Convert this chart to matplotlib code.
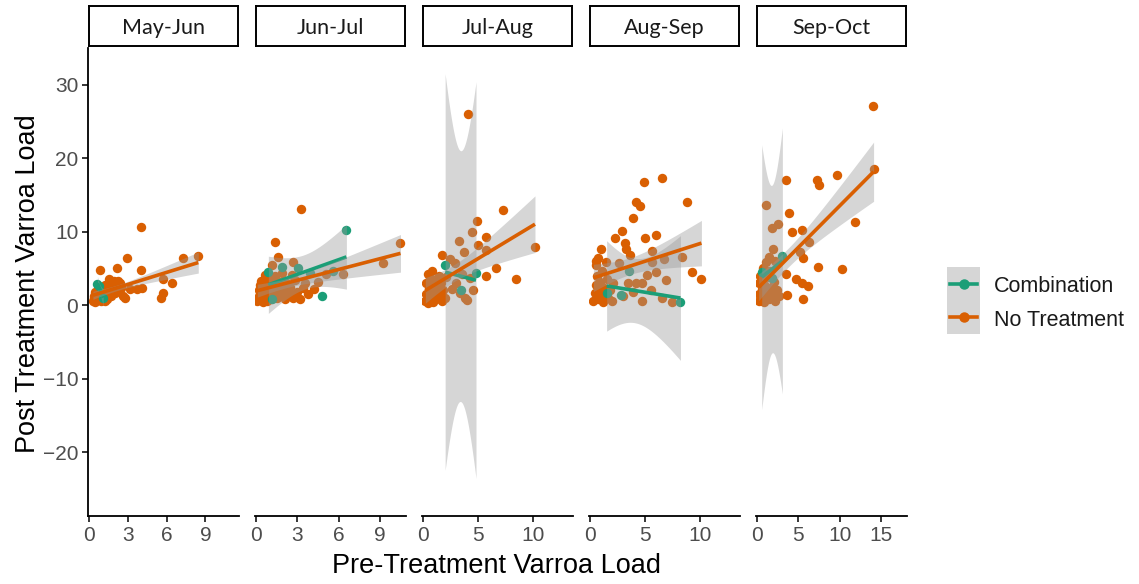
import numpy as np
import matplotlib
matplotlib.use("Agg")
import matplotlib.pyplot as plt
from matplotlib.patches import Rectangle
from matplotlib.lines import Line2D

# ---- data: pre- vs post-treatment varroa load, by period and treatment ----
periods = ["May-Jun", "Jun-Jul", "Jul-Aug", "Aug-Sep", "Sep-Oct"]
treatments = ["Combination", "No Treatment"]

# May-Jun
mayjun_none_pre = [4.0, 0.85, 2.15, 2.95, 4.05, 7.3, 8.45, 5.75, 6.45, 1.55, 2.25, 2.8, 3.2, 3.7,
                   4.1, 5.7, 5.55, 0.3, 0.4, 0.5, 0.6, 0.7, 0.8, 0.9, 1.0, 1.1, 1.2, 1.3, 1.4, 1.5,
                   1.6, 1.7, 1.8, 1.9, 2.0, 2.1, 2.3, 2.4, 2.5, 2.6, 1.2, 0.5,
                   0.35, 0.45, 0.55, 0.65, 0.75, 0.85, 0.95, 1.05, 1.15, 1.25, 1.35, 1.45, 1.55,
                   1.65, 1.75, 1.85, 1.95, 2.05, 2.2, 2.35]
mayjun_none_post = [10.6, 4.75, 5.1, 6.35, 4.85, 6.4, 6.7, 3.5, 3.0, 3.5, 3.3, 0.95, 2.2, 2.2,
                    2.4, 1.7, 0.95, 0.6, 1.2, 1.8, 0.9, 2.2, 1.4, 0.5, 1.0, 2.0, 2.8, 1.5, 0.8, 2.4,
                    3.0, 1.2, 2.0, 3.3, 1.6, 2.6, 1.9, 3.0, 2.3, 1.3, 0.6, 0.4,
                    1.0, 0.7, 1.3, 1.6, 0.9, 1.9, 1.3, 1.6, 1.1, 2.1, 1.8, 1.3, 2.2,
                    1.9, 2.6, 1.7, 2.3, 2.0, 2.5, 2.2]
mayjun_combo_pre = [0.65, 0.75, 1.1]
mayjun_combo_post = [2.9, 2.6, 1.0]

# Jun-Jul
junjul_none_pre = [3.3, 1.38, 10.5, 9.2, 1.6, 1.14, 2.7, 5.1, 6.3, 4.5, 3.55, 2.6, 0.65,
                   0.1, 0.2, 0.2, 0.3, 0.3, 0.4, 0.4, 0.5, 0.5, 0.6, 0.7, 0.7, 0.8, 0.9, 1.0, 1.0,
                   1.1, 1.2, 1.3, 1.4, 1.5, 1.6, 1.7, 1.8, 1.9, 2.0, 2.1, 2.2, 2.4, 2.5, 2.7, 2.8,
                   3.0, 3.2, 3.4, 3.8, 4.2]
junjul_none_post = [13.1, 8.6, 8.5, 5.7, 6.6, 5.4, 5.9, 4.3, 4.2, 3.2, 2.95, 4.1, 4.1,
                    0.5, 1.2, 2.0, 0.8, 2.8, 1.5, 3.3, 0.4, 2.3, 1.0, 1.8, 3.0, 0.6, 2.2, 1.3, 3.6,
                    0.8, 2.6, 1.6, 3.9, 1.0, 2.2, 3.2, 1.4, 4.4, 2.0, 0.9, 3.0, 1.6, 2.5, 1.0, 3.4,
                    1.8, 0.8, 2.4, 1.5, 2.2]
junjul_combo_pre = [0.9, 1.2, 1.86, 3.07, 3.9, 4.8, 5.6, 6.57]
junjul_combo_post = [4.5, 0.8, 5.2, 5.1, 4.4, 1.2, 4.6, 10.2]

# Jul-Aug
julaug_none_pre = [4.1, 7.27, 4.85, 5.75, 4.4, 3.25, 10.15, 5.0, 3.7, 5.75, 1.73, 6.6, 5.7, 8.4,
                   2.4, 2.9, 3.36, 4.3, 3.0, 3.8, 4.5, 2.6, 3.5, 4.0,
                   0.2, 0.3, 0.3, 0.4, 0.5, 0.5, 0.6, 0.7, 0.8, 0.9, 0.9, 1.0, 1.1, 1.2, 1.3,
                   1.4, 1.5, 1.6, 1.7, 1.8, 2.0, 2.1, 0.4, 1.2]
julaug_none_post = [26.0, 12.9, 11.5, 9.3, 10.0, 8.75, 7.9, 8.2, 7.3, 7.5, 6.8, 5.1, 4.0, 3.5,
                    6.3, 5.7, 1.7, 3.7, 3.0, 1.0, 2.0, 2.2, 4.2, 0.7,
                    0.5, 1.5, 3.0, 4.2, 0.8, 2.2, 3.6, 1.2, 4.6, 0.4, 2.6, 1.8, 3.4, 0.9, 2.3,
                    4.0, 1.4, 3.0, 0.6, 2.0, 1.0, 3.8, 0.3, 1.6]
julaug_combo_pre = [2.0, 3.4, 4.8]
julaug_combo_post = [5.45, 2.05, 4.35]

# Aug-Sep
augsep_none_pre = [6.5, 4.9, 4.15, 4.5, 8.8, 3.85, 2.9, 5.0, 6.0, 2.3, 3.2, 3.3, 3.6, 1.0, 0.7,
                   1.45, 0.54, 2.6, 5.65, 6.7, 5.65, 8.35, 9.25, 10.1, 5.2, 5.95, 6.85, 4.15,
                   4.75, 3.4, 7.45, 4.75, 2.95, 6.5, 5.5, 3.9,
                   0.3, 0.4, 0.5, 0.6, 0.7, 0.8, 0.9, 1.0, 1.1, 1.2, 1.3, 1.5, 1.6, 1.8, 2.0,
                   2.1, 0.5]
augsep_none_post = [17.3, 16.7, 14.1, 13.5, 14.0, 11.9, 10.1, 9.1, 9.6, 9.2, 8.4, 7.6, 6.8, 7.7,
                    6.35, 5.9, 5.4, 5.8, 5.9, 6.25, 7.35, 6.6, 4.45, 3.6, 4.1, 4.5, 3.4, 2.95,
                    2.95, 2.95, 0.45, 0.55, 1.2, 1.0, 2.0, 1.8,
                    0.5, 1.6, 2.8, 4.0, 0.8, 2.0, 3.2, 1.2, 4.6, 0.4, 2.4, 3.6, 1.0, 2.0, 0.6,
                    3.0, 6.0]
augsep_combo_pre = [1.5, 2.8, 3.5, 8.2]
augsep_combo_post = [1.6, 1.4, 4.6, 0.4]

# Sep-Oct
sepoct_none_pre = [14.0, 14.07, 3.5, 7.3, 7.5, 9.6, 1.09, 3.9, 11.85, 1.78, 2.58, 4.2, 5.4, 6.3,
                   1.97, 5.2, 5.5, 7.4, 10.2, 3.5, 4.7, 5.4, 6.1, 3.67, 5.5, 1.09, 0.77, 1.5, 2.2,
                   0.2, 0.3, 0.3, 0.4, 0.5, 0.6, 0.7, 0.8, 0.9, 1.0, 1.2, 1.3, 1.5, 1.6, 1.8,
                   2.0, 2.2, 2.4, 2.7, 1.4]
sepoct_none_post = [27.1, 18.5, 17.0, 17.0, 16.4, 17.7, 13.6, 12.5, 11.3, 10.5, 11.1, 10.0, 10.2,
                    8.6, 7.7, 7.25, 6.4, 5.2, 4.9, 4.2, 3.6, 2.95, 2.6, 1.36, 0.8, 5.9, 5.0, 6.5,
                    6.0, 0.5, 1.5, 3.0, 4.0, 0.8, 2.2, 3.4, 1.2, 0.4, 2.6, 1.8, 3.8, 0.9, 2.4,
                    1.4, 3.2, 0.6, 2.0, 1.2, 4.6]
sepoct_combo_pre = [0.57, 1.8, 3.06]
sepoct_combo_post = [4.45, 3.63, 6.65]

none_pre = [mayjun_none_pre, junjul_none_pre, julaug_none_pre, augsep_none_pre, sepoct_none_pre]
none_post = [mayjun_none_post, junjul_none_post, julaug_none_post, augsep_none_post, sepoct_none_post]
combo_pre = [mayjun_combo_pre, junjul_combo_pre, julaug_combo_pre, augsep_combo_pre, sepoct_combo_pre]
combo_post = [mayjun_combo_post, junjul_combo_post, julaug_combo_post, augsep_combo_post, sepoct_combo_post]

x_ticks = [[0, 3, 6, 9], [0, 3, 6, 9], [0, 5, 10], [0, 5, 10], [0, 5, 10, 15]]
y_ticks = [-20, -10, 0, 10, 20, 30]

# ---- styling ----
GREEN = "#1B9E77"
ORANGE = "#D95F02"
RIBBON = "#999999"
TICK_GREY = "#4D4D4D"
MAIN_FONT = ["Liberation Sans", "DejaVu Sans"]
STRIP_FONT = ["Lato", "DejaVu Sans"]

x_limits = [(-0.08, 11.6), (-0.07, 10.9), (-0.1, 13.6), (-0.1, 13.6), (-0.12, 18.1)]
y_limits = (-28.7, 35.0)

T975 = {1: 12.706, 2: 4.303, 3: 3.182, 4: 2.776, 5: 2.571, 6: 2.447,
        7: 2.365, 8: 2.306, 9: 2.262, 10: 2.228}


def t_quantile(df):
    if df in T975:
        return T975[df]
    z = 1.959964
    return z + (z**3 + z) / (4 * df) + (5 * z**5 + 16 * z**3 + 3 * z) / (96 * df**2)


def linear_smooth(x, y, n=80):
    """OLS fit with a 95% confidence band over the range of x."""
    x = np.asarray(x, float)
    y = np.asarray(y, float)
    X = np.column_stack([np.ones_like(x), x])
    beta = np.linalg.lstsq(X, y, rcond=None)[0]
    resid = y - X @ beta
    df = len(x) - 2
    s2 = resid @ resid / df
    cov = np.linalg.inv(X.T @ X) * s2
    xs = np.linspace(x.min(), x.max(), n)
    Xs = np.column_stack([np.ones_like(xs), xs])
    fit = Xs @ beta
    se = np.sqrt(np.einsum("ij,jk,ik->i", Xs, cov, Xs))
    h = t_quantile(df) * se
    return xs, fit, fit - h, fit + h


W, H = 1139, 584
fig = plt.figure(figsize=(W / 100, H / 100), dpi=100)


def fx(px):
    return px / W


def fy(py):
    return 1 - py / H


panel_left = [88, 255, 422, 589, 756]
panel_w = 151
panel_top, panel_bottom = 48, 516

for i, period in enumerate(periods):
    L = panel_left[i]
    ax = fig.add_axes([fx(L), fy(panel_bottom), panel_w / W, (panel_bottom - panel_top) / H])
    ax.set_xlim(*x_limits[i])
    ax.set_ylim(*y_limits)

    ax.scatter(none_pre[i], none_post[i], s=46, color=ORANGE, linewidths=0, zorder=2)
    ax.scatter(combo_pre[i], combo_post[i], s=46, color=GREEN, linewidths=0, zorder=2)

    for pre, post, col in ((combo_pre[i], combo_post[i], GREEN),
                           (none_pre[i], none_post[i], ORANGE)):
        xs, fit, lo, hi = linear_smooth(pre, post)
        ax.fill_between(xs, lo, hi, color=RIBBON, alpha=0.4, linewidth=0, zorder=3)
        ax.plot(xs, fit, color=col, lw=2.6, solid_capstyle="butt", zorder=3)

    for side in ("top", "right"):
        ax.spines[side].set_visible(False)
    ax.spines["bottom"].set_linewidth(1.3)
    ax.spines["bottom"].set_color("black")
    ax.set_xticks(x_ticks[i])
    ax.tick_params(axis="x", length=4, width=1.1, color="black", labelsize=15,
                   labelcolor=TICK_GREY, pad=3)
    if i == 0:
        ax.spines["left"].set_linewidth(1.3)
        ax.spines["left"].set_color("black")
        ax.set_yticks(y_ticks)
        ax.tick_params(axis="y", length=4, width=1.1, color="black", labelsize=15,
                       labelcolor=TICK_GREY, pad=3)
    else:
        ax.spines["left"].set_visible(False)
        ax.set_yticks([])
    for lab in ax.get_xticklabels() + ax.get_yticklabels():
        lab.set_family(MAIN_FONT)

    # facet strip
    sax = fig.add_axes([fx(L + 1), fy(46), (panel_w - 2) / W, 40 / H])
    sax.set_xticks([])
    sax.set_yticks([])
    for sp in sax.spines.values():
        sp.set_linewidth(1.4)
        sp.set_color("black")
    sax.text(0.5, 0.46, period, ha="center", va="center", fontsize=15.5,
             family=STRIP_FONT, color="#1A1A1A", transform=sax.transAxes)

# axis titles
fig.text(fx(497), fy(566), "Pre-Treatment Varroa Load", ha="center", va="center",
         fontsize=19.5, family=MAIN_FONT, color="black")
fig.text(fx(28), fy(284), "Post Treatment Varroa Load", ha="center", va="center",
         rotation=90, fontsize=19.5, family=MAIN_FONT, color="black")

# legend
lax = fig.add_axes([fx(947), fy(334), 33 / W, 67 / H])
lax.set_xlim(0, 1)
lax.set_ylim(0, 2)
lax.axis("off")
lax.add_patch(Rectangle((0, 0), 1, 2, facecolor=RIBBON, alpha=0.4, linewidth=0))
for k, (name, col) in enumerate(zip(treatments, (GREEN, ORANGE))):
    yk = 1.5 - k
    lax.add_line(Line2D([0.1, 0.9], [yk, yk], color=col, lw=2.6))
    lax.add_line(Line2D([0.5], [yk], color=col, marker="o", markersize=6.5, linestyle="none"))
    fig.text(fx(994), fy(286 + 34 * k), name, ha="left", va="center", fontsize=15.5,
             family=MAIN_FONT, color="#1A1A1A")

fig.savefig("out.png", dpi=100)
